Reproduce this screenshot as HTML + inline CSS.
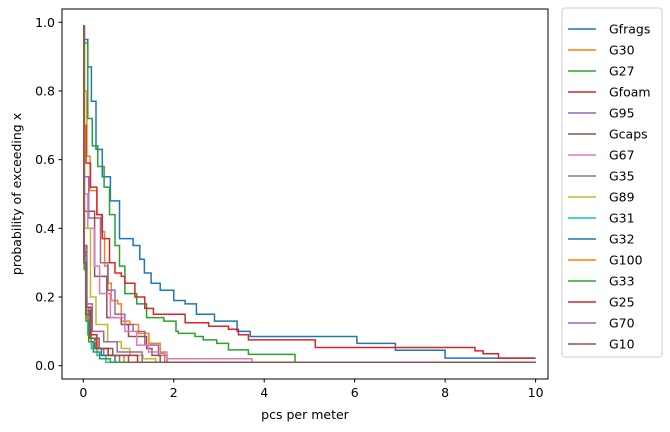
<!DOCTYPE html>
<html><head><meta charset="utf-8"><style>
html,body{margin:0;padding:0;background:#fff;}
svg{display:block;font-family:"DejaVu Sans","Liberation Sans",sans-serif;}
</style></head><body>
<svg id="chart" width="670" height="432" viewBox="0 0 670 432">
<g id="plot"></g>
<rect x="62" y="9" width="486" height="370" fill="none" stroke="#000" stroke-width="1"/>
<g id="ticks"></g>
<text x="305" y="419" text-anchor="middle" font-size="12.5">pcs per meter</text>
<text x="21" y="194" text-anchor="middle" font-size="12.5" transform="rotate(-90 21 194)">probability of exceeding x</text>
<rect x="562" y="8" width="100" height="349" rx="3" fill="#fff" stroke="#ccc"/>
<g id="legend"></g>
</svg>
<script>
const names = ["Gfrags","G30","G27","Gfoam","G95","Gcaps","G67","G35","G89","G31","G32","G100","G33","G25","G70","G10"];
const colors = ["#1f77b4","#ff7f0e","#2ca02c","#d62728","#9467bd","#8c564b","#e377c2","#7f7f7f","#bcbd22","#17becf","#1f77b4","#ff7f0e","#2ca02c","#d62728","#9467bd","#8c564b"];
const xTicks = [0,2,4,6,8,10];
const yTicks = [0.0,0.2,0.4,0.6,0.8,1.0];
const sGfrags_x = [0,0.03,0.1,0.18,0.28,0.42,0.6,0.8,1.1,1.25,1.35,1.5,1.7,2.0,2.25,2.5,2.9,3.4,3.69,6.05,6.9,8.0];
const sGfrags_y = [0.99,0.95,0.87,0.77,0.63,0.55,0.48,0.37,0.35,0.31,0.27,0.24,0.22,0.19,0.18,0.15,0.13,0.10,0.085,0.065,0.045,0.022];
const sG30_x = [0,0.03,0.08,0.15,0.3,0.4,0.47,0.55,0.62,0.76,0.84,1.03,1.22,1.45,1.7,1.8];
const sG30_y = [0.99,0.8,0.61,0.51,0.44,0.39,0.29,0.24,0.19,0.18,0.13,0.12,0.094,0.065,0.036,0.01];
const sG27_x = [0,0.03,0.1,0.2,0.32,0.46,0.58,0.7,0.8,0.92,1.18,1.4,1.78,2.05,2.1,2.47,2.65,2.95,3.21,3.65,4.68];
const sG27_y = [0.99,0.94,0.72,0.64,0.58,0.52,0.44,0.35,0.29,0.21,0.18,0.14,0.13,0.10,0.094,0.085,0.075,0.065,0.046,0.033,0.01];
const sGfoam_x = [0,0.02,0.06,0.16,0.3,0.42,0.58,0.7,0.84,0.92,1.14,1.36,1.55,2.25,2.77,3.21,3.43,3.65,5.13,8.66,8.84,9.18];
const sGfoam_y = [0.99,0.7,0.59,0.52,0.44,0.37,0.30,0.27,0.26,0.24,0.20,0.167,0.15,0.125,0.115,0.106,0.09,0.075,0.053,0.043,0.035,0.022];
const sG95_x = [0,0.02,0.12,0.38,0.54,0.7,0.92,1.1,1.36,1.66,1.85];
const sG95_y = [0.99,0.55,0.43,0.30,0.22,0.15,0.12,0.10,0.06,0.03,0.01];
const sGcaps_x = [0,0.02,0.25,0.52,0.84,1.0,1.4,1.52,1.7];
const sGcaps_y = [0.99,0.45,0.26,0.14,0.12,0.085,0.05,0.03,0.01];
const sG67_x = [0,0.02,0.1,0.24,0.36,0.6,0.92,1.18,1.44,1.85,3.73];
const sG67_y = [0.99,0.5,0.40,0.29,0.21,0.14,0.10,0.06,0.04,0.02,0.01];
const sG35_x = [0,0.02,0.06,0.12,0.25,0.45,0.8];
const sG35_y = [0.99,0.35,0.17,0.08,0.05,0.03,0.01];
const sG89_x = [0,0.03,0.16,0.28,0.54,0.84,1.03,1.32,1.6];
const sG89_y = [0.99,0.40,0.20,0.12,0.07,0.05,0.03,0.02,0.01];
const sG31_x = [0,0.02,0.05,0.1,0.18,0.3,0.5];
const sG31_y = [0.99,0.3,0.15,0.09,0.05,0.03,0.01];
const sG32_x = [0,0.02,0.07,0.15,0.26,0.4,0.7];
const sG32_y = [0.99,0.32,0.16,0.08,0.05,0.03,0.01];
const sG100_x = [0,0.02,0.08,0.17,0.3,0.55,0.9];
const sG100_y = [0.99,0.3,0.14,0.07,0.05,0.03,0.01];
const sG33_x = [0,0.02,0.06,0.12,0.22,0.36,0.6];
const sG33_y = [0.99,0.28,0.13,0.07,0.04,0.02,0.01];
const sG25_x = [0,0.02,0.07,0.17,0.3,0.55,1.2];
const sG25_y = [0.99,0.33,0.17,0.09,0.05,0.03,0.01];
const sG70_x = [0,0.02,0.08,0.2,0.45,0.75,1.3];
const sG70_y = [0.99,0.35,0.18,0.1,0.07,0.04,0.01];
const sG10_x = [0,0.01,0.06,0.15,0.35,0.65,1.0];
const sG10_y = [0.99,0.3,0.15,0.08,0.05,0.03,0.01];
const seriesX = [sGfrags_x,sG30_x,sG27_x,sGfoam_x,sG95_x,sGcaps_x,sG67_x,sG35_x,sG89_x,sG31_x,sG32_x,sG100_x,sG33_x,sG25_x,sG70_x,sG10_x];
const seriesY = [sGfrags_y,sG30_y,sG27_y,sGfoam_y,sG95_y,sGcaps_y,sG67_y,sG35_y,sG89_y,sG31_y,sG32_y,sG100_y,sG33_y,sG25_y,sG70_y,sG10_y];
const xMax = 10;

const NS="http://www.w3.org/2000/svg";
function sx(v){return 83.3+v*45.23;}
function sy(v){return 365.7-v*343.4;}
const plot=document.getElementById('plot');
seriesX.forEach((xs,i)=>{
  const ys=seriesY[i];
  let d="M"+sx(xs[0]).toFixed(1)+","+sy(ys[0]).toFixed(1);
  for(let k=1;k<xs.length;k++){d+=" H"+sx(xs[k]).toFixed(1)+" V"+sy(ys[k]).toFixed(1);}
  d+=" H"+sx(xMax).toFixed(1);
  const p=document.createElementNS(NS,'path');
  p.setAttribute('d',d);p.setAttribute('fill','none');p.setAttribute('stroke',colors[i]);p.setAttribute('stroke-width','1.5');
  
  
  plot.appendChild(p);
});
const tk=document.getElementById('ticks');
xTicks.forEach(v=>{
  const x=sx(v);
  const l=document.createElementNS(NS,'line');
  l.setAttribute('x1',x);l.setAttribute('x2',x);l.setAttribute('y1',379);l.setAttribute('y2',382.5);l.setAttribute('stroke','#000');
  
  
  tk.appendChild(l);
  const t=document.createElementNS(NS,'text');
  t.setAttribute('x',x);t.setAttribute('y',397);t.setAttribute('text-anchor','middle');t.setAttribute('font-size','12.5');
  t.textContent=String(v);
  
  
  tk.appendChild(t);
});
yTicks.forEach(v=>{
  const y=sy(v);
  const l=document.createElementNS(NS,'line');
  l.setAttribute('x1',58.5);l.setAttribute('x2',62);l.setAttribute('y1',y);l.setAttribute('y2',y);l.setAttribute('stroke','#000');
  
  
  tk.appendChild(l);
  const t=document.createElementNS(NS,'text');
  t.setAttribute('x',55);t.setAttribute('y',y+4.5);t.setAttribute('text-anchor','end');t.setAttribute('font-size','12.5');
  t.textContent=v.toFixed(1);
  
  
  tk.appendChild(t);
});
const lg=document.getElementById('legend');
names.forEach((n,i)=>{
  const y=29+i*21;
  const g=document.createElementNS(NS,'g');
  
  
  const l=document.createElementNS(NS,'line');
  l.setAttribute('x1',568);l.setAttribute('x2',596);l.setAttribute('y1',y);l.setAttribute('y2',y);l.setAttribute('stroke',colors[i]);l.setAttribute('stroke-width','1.5');
  g.appendChild(l);
  const t=document.createElementNS(NS,'text');
  t.setAttribute('x',609);t.setAttribute('y',y+4.5);t.setAttribute('font-size','12.5');
  t.textContent=n;
  g.appendChild(t);
  lg.appendChild(g);
});
</script>
</body></html>
